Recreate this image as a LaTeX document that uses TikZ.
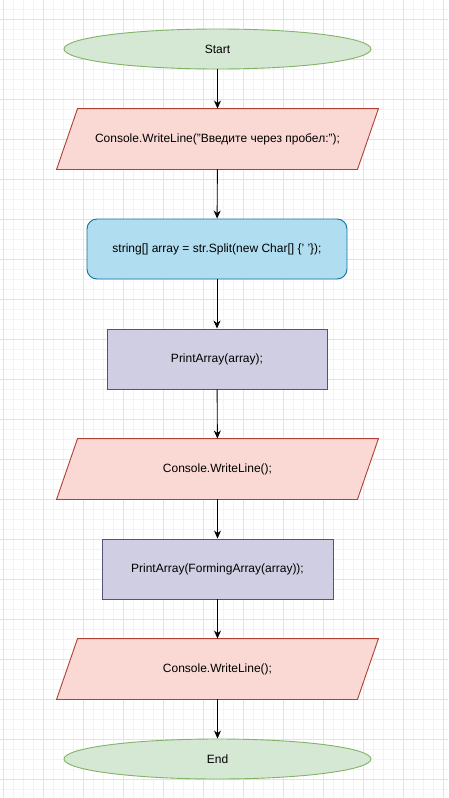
\documentclass[tikz,border=0pt]{standalone}
\usepackage{fontspec}
\setmainfont{Liberation Sans}
\usetikzlibrary{shapes.geometric,arrows.meta}
\definecolor{gfill}{HTML}{D5E8D4}\definecolor{gdraw}{HTML}{82B366}
\definecolor{rfill}{HTML}{FAD9D5}\definecolor{rdraw}{HTML}{AE4132}
\definecolor{bfill}{HTML}{B1DDF0}\definecolor{bdraw}{HTML}{10739E}
\definecolor{pfill}{HTML}{D0CEE2}\definecolor{pdraw}{HTML}{56517E}
\definecolor{gridminor}{HTML}{F3F3F3}\definecolor{gridmajor}{HTML}{E3E3E3}
\pgfdeclarelayer{gridlayer}
\pgfdeclarelayer{shapelayer}
\pgfsetlayers{gridlayer,shapelayer,main}
\tikzset{
  base/.style={font=\fontsize{12}{14}\selectfont, inner sep=0pt, line width=0.9pt},
  term/.style={base, ellipse, fill=gfill, draw=gdraw, minimum width=307pt, minimum height=40pt},
  io/.style={base, rectangle, minimum width=300pt, minimum height=60pt},
  iobox/.style={fill=rfill, draw=rdraw, line width=0.9pt},
  proc/.style={base, rectangle, fill=pfill, draw=pdraw, minimum height=60pt},
  rproc/.style={base, rectangle, rounded corners=10pt, fill=bfill, draw=bdraw, minimum height=60pt, minimum width=260pt},
  flow/.style={line width=0.9pt, -{Stealth[length=8pt,width=7pt,inset=2.5pt]}}
}
\newcommand{\ioshape}[1]{%
  \begin{pgfonlayer}{shapelayer}
  \filldraw[iobox] ([xshift=-10.5pt]#1.south west) -- ([xshift=10.5pt]#1.north west) -- ([xshift=10.5pt]#1.north east) -- ([xshift=-10.5pt]#1.south east) -- cycle;
  \end{pgfonlayer}}
\begin{document}
\begin{tikzpicture}[x=1pt,y=-1pt]
\useasboundingbox (0,0) rectangle (448,798);
\begin{pgfonlayer}{gridlayer}
\fill[white] (0,0) rectangle (448,798);
\foreach \i in {0,...,45} {\draw[gridminor, line width=0.8pt] (3+\i*10,0) -- (3+\i*10,798);}
\foreach \j in {0,...,80} {\draw[gridminor, line width=0.8pt] (0,-1+\j*10) -- (448,-1+\j*10);}
\foreach \i in {0,...,11} {\draw[gridmajor, line width=0.8pt] (3+\i*40,0) -- (3+\i*40,798);}
\foreach \j in {0,...,20} {\draw[gridmajor, line width=0.8pt] (0,19+\j*40) -- (448,19+\j*40);}
\end{pgfonlayer}

\node[term] (start) at (217.5,49) {Start};
\node[io] (in1) at (217.5,139) {Console.WriteLine("Введите через пробел:");};
\node[rproc] (split) at (217,249) {string[] array = str.Split(new Char[] \{' '\});};
\node[proc, minimum width=220pt] (pa1) at (217,359) {PrintArray(array);};
\node[io] (out1) at (217.5,469) {Console.WriteLine();};
\node[proc, minimum width=231pt] (pa2) at (217.5,569) {PrintArray(FormingArray(array));};
\node[io] (out2) at (217.5,669) {Console.WriteLine();};
\node[term] (end) at (217.5,759) {End};

\ioshape{in1}
\ioshape{out1}
\ioshape{out2}

\draw[flow] (start) -- (in1);
\draw[flow] (in1) -- (split);
\draw[flow] (split) -- (pa1);
\draw[flow] (pa1) -- (out1);
\draw[flow] (out1) -- (pa2);
\draw[flow] (pa2) -- (out2);
\draw[flow] (out2) -- (end);
\end{tikzpicture}
\end{document}
